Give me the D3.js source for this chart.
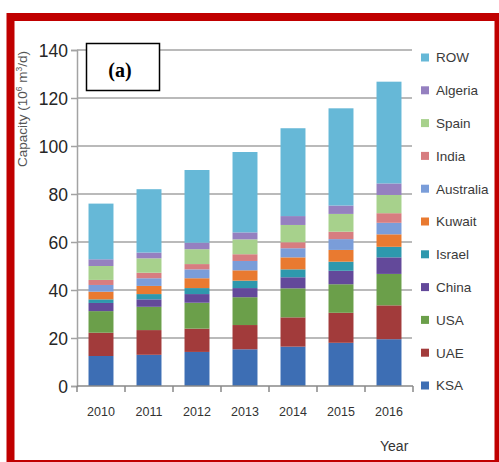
<!DOCTYPE html>
<html>
<head>
<meta charset="utf-8">
<script src="https://cdn.jsdelivr.net/npm/d3@7"></script>
<style>
  body { margin: 0; background: #fff; }
  svg { display: block; }
</style>
</head>
<body>
<div id="chart"></div>
<script>
// years on the x axis
var years = ["2010", "2011", "2012", "2013", "2014", "2015", "2016"];

// series, bottom of the stack first
var seriesNames = ["KSA", "UAE", "USA", "China", "Israel", "Kuwait", "Australia", "India", "Spain", "Algeria", "ROW"];
var seriesColors = ["#3d6eb4", "#a23b3b", "#6b9f4a", "#63499a", "#2e98ad", "#e97a30", "#7a9dd9", "#d77d80", "#a7d18c", "#9580c0", "#66b8d7"];

// capacity per country and year (10^6 m3/d)
var KSA       = [12.5, 13.0, 14.2, 15.3, 16.4, 18.0, 19.5];
var UAE       = [ 9.7, 10.3,  9.7, 10.1, 12.2, 12.5, 14.1];
var USA       = [ 9.0,  9.7, 10.8, 11.6, 12.1, 11.9, 13.1];
var China     = [ 3.4,  3.1,  3.6,  3.8,  4.6,  5.6,  6.9];
var Israel    = [ 1.5,  2.2,  2.5,  3.1,  3.3,  3.8,  4.4];
var Kuwait    = [ 3.2,  3.4,  4.1,  4.3,  5.0,  4.9,  5.2];
var Australia = [ 2.8,  3.2,  3.7,  3.9,  3.8,  4.5,  4.8];
var India     = [ 2.1,  2.3,  2.2,  2.8,  2.5,  3.1,  4.0];
var Spain     = [ 5.8,  6.0,  6.2,  6.2,  7.2,  7.4,  7.6];
var Algeria   = [ 2.8,  2.4,  2.7,  2.9,  3.7,  3.5,  4.8];
var ROW       = [23.2, 26.4, 30.3, 33.5, 36.6, 40.5, 42.4];

var yTicks = [0, 20, 40, 60, 80, 100, 120, 140];

var seriesValues = [KSA, UAE, USA, China, Israel, Kuwait, Australia, India, Spain, Algeria, ROW];

var width = 499, height = 462;
var plot = {left: 77, right: 413, top: 50, bottom: 386};
var font = "'Liberation Sans', Arial, sans-serif";

// rows for d3.stack
var table = years.map(function(y, i) {
    var row = {year: y};
    seriesNames.forEach(function(name, k) { row[name] = seriesValues[k][i]; });
    return row;
});
var stacked = d3.stack().keys(seriesNames)(table);

var x = d3.scaleBand().domain(years).range([plot.left, plot.right]).paddingInner(0.48).paddingOuter(0.24);
var y = d3.scaleLinear().domain([0, 140]).range([plot.bottom, plot.top]);
var color = d3.scaleOrdinal().domain(seriesNames).range(seriesColors);

var svg = d3.select("#chart").append("svg")
    .attr("width", width)
    .attr("height", height);

// red frame
svg.append("rect")
    .attr("x", 10.5).attr("y", 17)
    .attr("width", 488).attr("height", 447)
    .style("fill", "#fff")
    .style("stroke", "#c00000")
    .style("stroke-width", 8);

// gridlines
svg.append("g").selectAll("line")
    .data(yTicks.slice(1))
    .enter().append("line")
    .attr("x1", plot.left).attr("x2", plot.right - 1)
    .attr("y1", function(d) { return y(d); })
    .attr("y2", function(d) { return y(d); })
    .style("stroke", "#a3a3a3")
    .style("stroke-width", 1.5);

// bars
svg.append("g").selectAll("g")
    .data(stacked)
    .enter().append("g")
    .style("fill", function(d) { return color(d.key); })
    .selectAll("rect")
    .data(function(d) { return d; })
    .enter().append("rect")
    .attr("x", function(d) { return x(d.data.year); })
    .attr("width", x.bandwidth())
    .attr("y", function(d) { return y(d[1]); })
    .attr("height", function(d) { return y(d[0]) - y(d[1]); });

// y axis
var yAxis = d3.axisLeft(y).tickValues(yTicks).tickSize(6).tickPadding(3);
var yAxisG = svg.append("g")
    .attr("transform", "translate(" + plot.left + ",0)")
    .call(yAxis);
yAxisG.select(".domain").style("stroke", "#a3a3a3").style("stroke-width", 1.5);
yAxisG.selectAll(".tick line").style("stroke", "#a3a3a3").style("stroke-width", 1.5);
yAxisG.selectAll("text")
    .style("font-family", font)
    .style("font-size", "17.5px")
    .style("fill", "#262626")
    .attr("dy", "0.36em");

// x axis: ticks between the bands
var xAxisG = svg.append("g")
    .attr("transform", "translate(0," + plot.bottom + ")");
xAxisG.append("line")
    .attr("x1", plot.left).attr("x2", plot.right)
    .style("stroke", "#888")
    .style("stroke-width", 1.5);
xAxisG.selectAll("line.sep")
    .data(d3.range(years.length + 1))
    .enter().append("line")
    .attr("class", "sep")
    .attr("x1", function(i) { return plot.left + i * x.step(); })
    .attr("x2", function(i) { return plot.left + i * x.step(); })
    .attr("y1", 0).attr("y2", 6)
    .style("stroke", "#888")
    .style("stroke-width", 1.5);
xAxisG.selectAll("text")
    .data(years)
    .enter().append("text")
    .attr("x", function(d) { return x(d) + x.bandwidth() / 2; })
    .attr("y", 30)
    .attr("text-anchor", "middle")
    .style("font-family", font)
    .style("font-size", "12.5px")
    .style("fill", "#333")
    .text(function(d) { return d; });

// axis titles
svg.append("text")
    .attr("x", 380).attr("y", 451)
    .style("font-family", font)
    .style("font-size", "14px")
    .style("fill", "#333")
    .text("Year");

var yTitle = svg.append("text")
    .attr("transform", "translate(27,109) rotate(-90)")
    .attr("text-anchor", "middle")
    .style("font-family", font)
    .style("font-size", "13.5px")
    .style("fill", "#555");
yTitle.append("tspan").text("Capacity (10");
yTitle.append("tspan").attr("dy", -5).style("font-size", "8.5px").text("6");
yTitle.append("tspan").attr("dy", 5).text(" m");
yTitle.append("tspan").attr("dy", -5).style("font-size", "8.5px").text("3");
yTitle.append("tspan").attr("dy", 5).text("/d)");

// legend, top entry is the top of the stack
var legend = svg.append("g").selectAll("g")
    .data(seriesNames.slice().reverse())
    .enter().append("g")
    .attr("transform", function(d, i) { return "translate(421," + (57.5 + i * 32.8) + ")"; });
legend.append("rect")
    .attr("x", 0).attr("y", -4)
    .attr("width", 8).attr("height", 8)
    .style("fill", function(d) { return color(d); });
legend.append("text")
    .attr("x", 15).attr("dy", "0.36em")
    .style("font-family", font)
    .style("font-size", "13.5px")
    .style("fill", "#3a3a3a")
    .text(function(d) { return d; });

// panel label
svg.append("rect")
    .attr("x", 86.5).attr("y", 43.5)
    .attr("width", 73).attr("height", 47)
    .style("fill", "#fff")
    .style("stroke", "#000")
    .style("stroke-width", 1.5);
svg.append("text")
    .attr("x", 120).attr("y", 77)
    .attr("text-anchor", "middle")
    .style("font-family", "'Liberation Serif', 'DejaVu Serif', serif")
    .style("font-weight", "bold")
    .style("font-size", "20px")
    .style("fill", "#000")
    .text("(a)");
</script>
</body>
</html>
